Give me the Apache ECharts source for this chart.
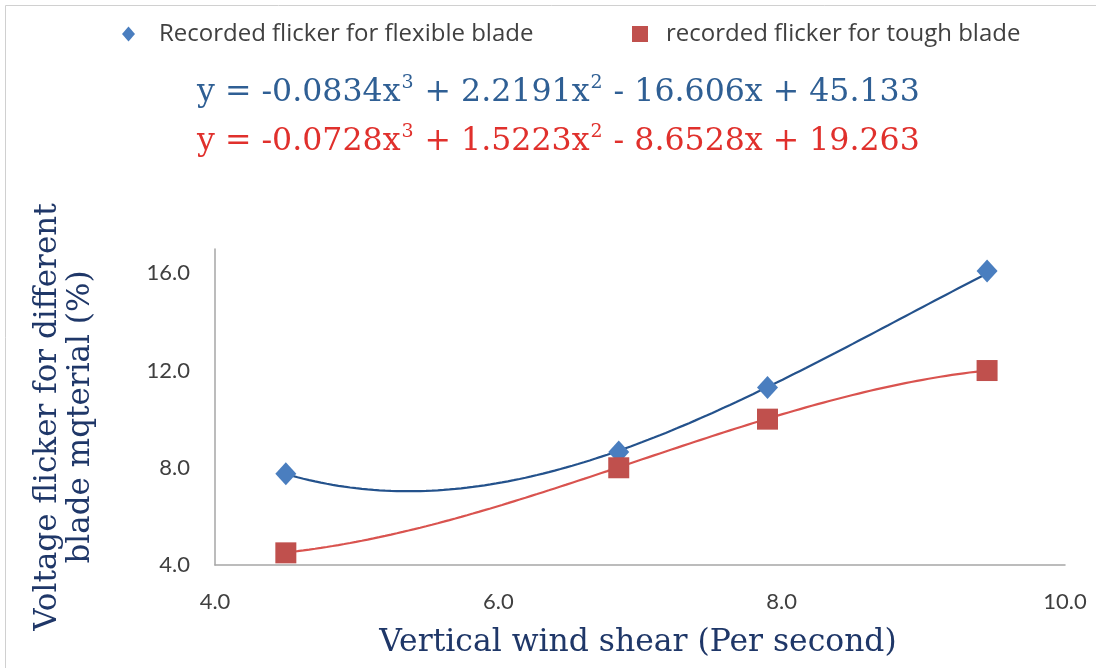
<!DOCTYPE html>
<html>
<head>
<meta charset="utf-8">
<script src="https://cdn.jsdelivr.net/npm/echarts@6/dist/echarts.min.js"></script>
<style>
  html, body { margin: 0; padding: 0; background: #ffffff; }
  #chart { width: 1096px; height: 668px; }
</style>
</head>
<body>
<div id="chart"></div>
<script>
// Measured voltage flicker against vertical wind shear
const flexibleName = 'Recorded flicker for flexible blade';
const toughName = 'recorded flicker for tough blade';
const flexibleX = [4.5, 6.85, 7.9, 9.45];
const flexibleY = [7.75, 8.65, 11.3, 16.1];
const toughX = [4.5, 6.85, 7.9, 9.45];
const toughY = [4.5, 8.0, 10.0, 12.0];

// Cubic trendline coefficients, highest power first (as printed on the chart)
const flexibleFit = [-0.0834, 2.2191, -16.606, 45.133];
const toughFit = [-0.0728, 1.5223, -8.6528, 19.263];

// Axis ticks
const xTicks = [4.0, 6.0, 8.0, 10.0];
const yTicks = [4.0, 8.0, 12.0, 16.0];

const BLUE_MARK = '#4a7ebf';
const RED_MARK = '#c0504d';
const BLUE_LINE = '#24528c';
const RED_LINE = '#d9534f';
const BLUE_EQ = '#2f5f94';
const RED_EQ = '#e0302c';
const NAVY = '#1f3768';
const GREY_TEXT = '#404040';
const SANS = 'Lato, "Liberation Sans", sans-serif';
const LEGEND_SANS = '"Open Sans", Lato, sans-serif';
const SERIF = '"DejaVu Serif", "Liberation Serif", serif';

function pairs(xs, ys) { return xs.map((x, i) => [x, ys[i]]); }

function polyAt(c, x) {
  return c.reduce((acc, k) => acc * x + k, 0);
}

// Trendline drawn across the span of the measured points
function trendPoints(c, xs) {
  const lo = Math.min(...xs), hi = Math.max(...xs);
  const steps = 120;
  const pts = [];
  for (let i = 0; i <= steps; i++) {
    const x = lo + (hi - lo) * i / steps;
    pts.push([x, polyAt(c, x)]);
  }
  return pts;
}

// "y = ax3 + bx2 + cx + d" in rich-text form with superscript powers
function equationText(c) {
  const deg = c.length - 1;
  let s = 'y = ';
  c.forEach((k, i) => {
    const p = deg - i;
    const abs = Math.abs(k).toString();
    if (i === 0) s += (k < 0 ? '-' : '') + abs;
    else s += (k < 0 ? ' - ' : ' + ') + abs;
    if (p >= 2) s += 'x{sup|' + p + '}';
    else if (p === 1) s += 'x';
  });
  return s;
}

function eqStyle(color, text) {
  return {
    text: text,
    fill: color,
    font: '31.6px ' + SERIF,
    rich: {
      sup: { fontSize: 19, fontFamily: SERIF, fill: color, verticalAlign: 'top', lineHeight: 38, padding: [0, 1, 0, 1] }
    }
  };
}

const chart = echarts.init(document.getElementById('chart'), null, { renderer: 'canvas' });

const option = {
  backgroundColor: '#ffffff',
  animation: false,
  grid: { left: 215, right: 31, top: 249, bottom: 103, containLabel: false },
  legend: [
    {
      data: [{ name: flexibleName, icon: 'diamond' }],
      left: 117, top: 17,
      itemWidth: 13, itemHeight: 15,
      textStyle: { color: GREY_TEXT, fontFamily: LEGEND_SANS, fontSize: 24, padding: [0, 0, 0, 19] }
    },
    {
      data: [{ name: toughName, icon: 'rect' }],
      left: 627, top: 17,
      itemWidth: 16, itemHeight: 16,
      textStyle: { color: GREY_TEXT, fontFamily: LEGEND_SANS, fontSize: 24, padding: [0, 0, 0, 13] }
    }
  ],
  xAxis: {
    type: 'value',
    min: 4, max: 10, interval: 2,
    axisLine: { show: true, lineStyle: { color: '#a6a6a6', width: 1.5 } },
    axisTick: { show: false },
    splitLine: { show: false },
    axisLabel: {
      color: GREY_TEXT, fontFamily: SANS, fontSize: 22, margin: 26,
      formatter: v => xTicks.includes(v) ? v.toFixed(1) : ''
    }
  },
  yAxis: {
    type: 'value',
    min: 4, max: 17, interval: 4,
    axisLine: { show: true, lineStyle: { color: '#a6a6a6', width: 1.5 } },
    axisTick: { show: false },
    splitLine: { show: false },
    axisLabel: {
      color: GREY_TEXT, fontFamily: SANS, fontSize: 22, margin: 25,
      formatter: v => yTicks.includes(v) ? v.toFixed(1) : ''
    }
  },
  graphic: [
    {
      type: 'rect', silent: true, z: -10,
      shape: { x: 5.5, y: 5.5, width: 1200, height: 800 },
      style: { fill: 'none', stroke: '#d0d0d0', lineWidth: 1 }
    },
    { type: 'text', left: 197, top: 74, style: eqStyle(BLUE_EQ, equationText(flexibleFit)) },
    { type: 'text', left: 197, top: 123, style: eqStyle(RED_EQ, equationText(toughFit)) },
    {
      type: 'text', x: 638, y: 643,
      style: { text: 'Vertical wind shear (Per second)', fill: NAVY, font: '31.4px ' + SERIF, textAlign: 'center', textVerticalAlign: 'middle' }
    },
    {
      type: 'text', x: 64, y: 417, rotation: Math.PI / 2,
      style: {
        text: 'Voltage flicker for different\nblade mqterial (%)',
        fill: NAVY, font: '31px ' + SERIF, lineHeight: 33,
        textAlign: 'center', textVerticalAlign: 'middle'
      }
    }
  ],
  series: [
    {
      name: 'flexible trend', type: 'line', data: trendPoints(flexibleFit, flexibleX),
      showSymbol: false, smooth: false, z: 2,
      lineStyle: { color: BLUE_LINE, width: 2.2 }, itemStyle: { color: BLUE_LINE }
    },
    {
      name: 'tough trend', type: 'line', data: trendPoints(toughFit, toughX),
      showSymbol: false, smooth: false, z: 2,
      lineStyle: { color: RED_LINE, width: 2.2 }, itemStyle: { color: RED_LINE }
    },
    {
      name: flexibleName, type: 'scatter', data: pairs(flexibleX, flexibleY),
      symbol: 'diamond', symbolSize: [21, 23], z: 3,
      itemStyle: { color: BLUE_MARK, opacity: 1 }
    },
    {
      name: toughName, type: 'scatter', data: pairs(toughX, toughY),
      symbol: 'rect', symbolSize: 21, z: 3,
      itemStyle: { color: RED_MARK, opacity: 1 }
    }
  ]
};

chart.setOption(option);
</script>
</body>
</html>
